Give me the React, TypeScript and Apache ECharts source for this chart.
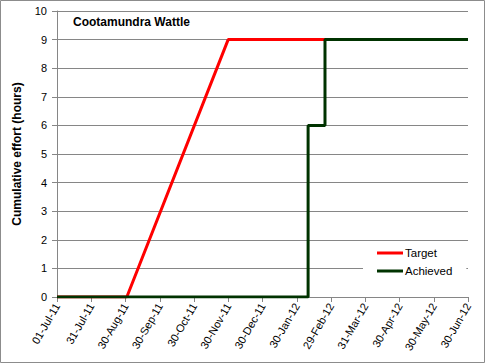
import React, { useEffect, useRef } from "react";
import * as echarts from "echarts";

const tickLabels = ["01-Jul-11","31-Jul-11","30-Aug-11","30-Sep-11","30-Oct-11","30-Nov-11","30-Dec-11","30-Jan-12","29-Feb-12","31-Mar-12","30-Apr-12","30-May-12","30-Jun-12"];
const startDate = "2011-07-01";
const endDate = "2012-06-30";

const targetDates = ["2011-07-01", "2011-09-01", "2011-11-30", "2012-06-30"];
const targetHours = [0, 0, 9, 9];

const achievedDates = ["2011-07-01", "2012-02-09", "2012-02-24", "2012-06-30"];
const achievedHours = [0, 6, 9, 9];

const yTicks = [0, 1, 2, 3, 4, 5, 6, 7, 8, 9, 10];

const dayMs = 86400000;
const t0 = Date.parse(startDate);
const totalDays = (Date.parse(endDate) - t0) / dayMs;
const toAxis = (d: string) => ((Date.parse(d) - t0) / dayMs) * (tickLabels.length - 1) / totalDays;

const FONT = "'Liberation Sans', Arial, sans-serif";

export default function App() {
  const ref = useRef<HTMLDivElement>(null);
  useEffect(() => {
    const chart = echarts.init(ref.current!, null, { renderer: "svg" });
    chart.setOption({
      animation: false,
      backgroundColor: "#ffffff",
      textStyle: { fontFamily: FONT },
      grid: { left: 57, right: 17, top: 11, bottom: 66 },
      graphic: [
        {
          type: "rect",
          shape: { x: 0.5, y: 0.5, width: 484, height: 362 },
          style: { fill: "none", stroke: "#8c8c8c", lineWidth: 1 },
          silent: true,
        },
        {
          type: "text",
          left: 73,
          top: 16,
          style: { text: "Cootamundra Wattle", font: "bold 12px " + FONT, fill: "#000" },
        },
      ],
      legend: {
        orient: "vertical",
        left: 363,
        top: 244,
        padding: [3, 14, 4, 14],
        backgroundColor: "#ffffff",
        icon: "rect",
        itemWidth: 26,
        itemHeight: 3,
        itemGap: 6,
        textStyle: { fontSize: 11.5, color: "#000", fontFamily: FONT, padding: [0, 0, 0, -3] },
        data: ["Target", "Achieved"],
      },
      xAxis: {
        type: "value",
        min: 0,
        max: tickLabels.length - 1,
        interval: 1,
        axisLine: { show: true, lineStyle: { color: "#868686", width: 1 } },
        axisTick: { show: true, length: 5, lineStyle: { color: "#868686" } },
        splitLine: { show: false },
        axisLabel: {
          rotate: 60,
          fontSize: 11,
          color: "#000",
          margin: 7,
          fontFamily: FONT,
          formatter: (v: number) => tickLabels[Math.round(v)] ?? "",
        },
      },
      yAxis: {
        type: "value",
        min: yTicks[0],
        max: yTicks[yTicks.length - 1],
        interval: 1,
        name: "Cumulative effort (hours)",
        nameLocation: "middle",
        nameRotate: 90,
        nameGap: 34,
        nameTextStyle: { fontSize: 12, fontWeight: "bold", color: "#000", fontFamily: FONT },
        axisLine: { show: true, lineStyle: { color: "#868686", width: 1 } },
        axisTick: { show: true, length: 5, lineStyle: { color: "#868686" } },
        splitLine: { show: true, lineStyle: { color: "#868686", width: 1 } },
        axisLabel: { fontSize: 11, color: "#000", margin: 10, fontFamily: FONT },
      },
      series: [
        {
          name: "Target",
          type: "line",
          symbol: "none",
          color: "#ff0000",
          lineStyle: { color: "#ff0000", width: 3 },
          data: targetDates.map((d, i) => [toAxis(d), targetHours[i]]),
        },
        {
          name: "Achieved",
          type: "line",
          symbol: "none",
          step: "end",
          color: "#003300",
          lineStyle: { color: "#003300", width: 3 },
          data: achievedDates.map((d, i) => [toAxis(d), achievedHours[i]]),
        },
      ],
    });
    return () => chart.dispose();
  }, []);
  return <div ref={ref} style={{ position: "fixed", left: 0, top: 0, width: 485, height: 363 }} />;
}
